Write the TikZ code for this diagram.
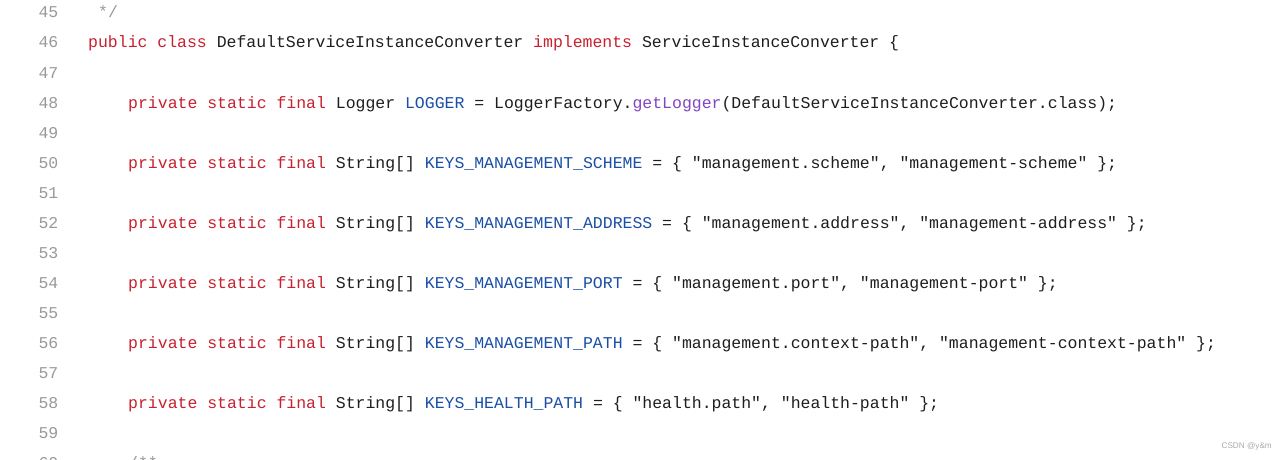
\documentclass[tikz,border=0pt]{standalone}
\usepackage{fontspec}
\setmonofont{Liberation Mono}
\newfontfamily\wmfont{Liberation Sans}
\definecolor{kw}{HTML}{C8202F}
\definecolor{cst}{HTML}{1A4FA8}
\definecolor{fn}{HTML}{8245C4}
\definecolor{txt}{HTML}{1E1E1E}
\definecolor{lnum}{HTML}{999999}
\definecolor{wm}{HTML}{AAAAAA}
\newcommand{\kw}[1]{\textcolor{kw}{#1}}
\newcommand{\cst}[1]{\textcolor{cst}{#1}}
\newcommand{\fnc}[1]{\textcolor{fn}{#1}}
\tikzset{
  codeline/.style={anchor=base west, inner sep=0pt, font=\ttfamily\fontsize{16.48pt}{18pt}\selectfont, text=txt},
  numline/.style={anchor=base east, inner sep=0pt, font=\ttfamily\fontsize{16.48pt}{18pt}\selectfont, text=lnum},
  watermark/.style={anchor=base east, inner sep=0pt, font=\wmfont\fontsize{8.2pt}{9pt}\selectfont, text=wm}
}
\begin{document}
\begin{tikzpicture}[x=1pt,y=-1pt]
\useasboundingbox (0,0) rectangle (1287,460);
\clip (0,0) rectangle (1287,460);
\fill[white] (0,0) rectangle (1287,460);
% line numbers
\foreach \n [count=\i from 0] in {45,...,60} {
  \node[numline] (n\n) at (58.5, 18+30*\i) {\n};
}
% code
\node[codeline, text=lnum] (c45) at (98, 18) {*/};
\node[codeline] (c46) at (88, 48) {\kw{public} \kw{class} DefaultServiceInstanceConverter \kw{implements} ServiceInstanceConverter \{};
\node[codeline] (c48) at (128, 108) {\kw{private} \kw{static} \kw{final} Logger \cst{LOGGER} = LoggerFactory.\fnc{getLogger}(DefaultServiceInstanceConverter.class);};
\node[codeline] (c50) at (128, 168) {\kw{private} \kw{static} \kw{final} String[] \cst{KEYS\_MANAGEMENT\_SCHEME} = \{ "management.scheme", "management-scheme" \};};
\node[codeline] (c52) at (128, 228) {\kw{private} \kw{static} \kw{final} String[] \cst{KEYS\_MANAGEMENT\_ADDRESS} = \{ "management.address", "management-address" \};};
\node[codeline] (c54) at (128, 288) {\kw{private} \kw{static} \kw{final} String[] \cst{KEYS\_MANAGEMENT\_PORT} = \{ "management.port", "management-port" \};};
\node[codeline] (c56) at (128, 348) {\kw{private} \kw{static} \kw{final} String[] \cst{KEYS\_MANAGEMENT\_PATH} = \{ "management.context-path", "management-context-path" \};};
\node[codeline] (c58) at (128, 408) {\kw{private} \kw{static} \kw{final} String[] \cst{KEYS\_HEALTH\_PATH} = \{ "health.path", "health-path" \};};
\node[codeline, text=lnum] (c60) at (128, 468) {/**};
% watermark
\node[watermark] (wm) at (1272, 448) {CSDN @y\&m};
\end{tikzpicture}
\end{document}
